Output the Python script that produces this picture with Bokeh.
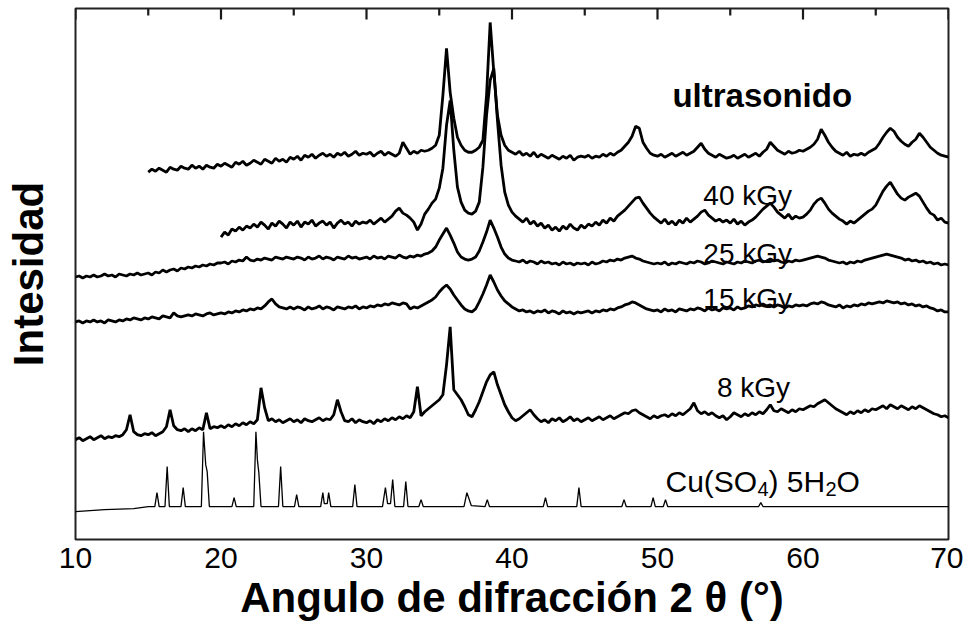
import numpy as np
from bokeh.plotting import figure
from bokeh.models import Range1d, FixedTicker, Label
from bokeh.embed import file_html
from bokeh.resources import INLINE

# ---------------- data (intensity in arbitrary units, offset per pattern) ----------------
STEP = 0.25  # scan step (degrees 2-theta)

ultra_start = 15.0
ultra = [
    368, 371, 369, 372, 370, 368, 373, 371, 370, 374, 372, 371, 375, 372, 374, 371, 375, 373, 372, 376,
    374, 377, 375, 373, 378, 376, 379, 375, 377, 380, 378, 376, 381, 379, 377, 382, 379, 381, 378, 383,
    381, 384, 380, 385, 383, 386, 382, 385, 387, 384, 386, 383, 387, 385, 388, 384, 386, 389, 385, 387,
    386, 388, 384, 387, 389, 385, 388, 386, 384, 387, 398, 392, 386, 389, 387, 390, 389, 390, 392, 395,
    405, 445, 492, 448, 422, 403, 395, 390, 388, 388, 390, 393, 400, 445, 518, 468, 425, 405, 395, 390,
    388, 386, 389, 385, 387, 384, 388, 383, 386, 384, 382, 385, 383, 381, 384, 382, 385, 380, 383, 384,
    383, 385, 382, 384, 383, 386, 384, 387, 385, 388, 390, 394, 398, 404, 414, 412, 398, 392, 387, 385,
    384, 386, 383, 385, 387, 384, 386, 388, 385, 387, 389, 393, 397, 391, 387, 385, 383, 386, 384, 382,
    383, 385, 382, 384, 386, 383, 385, 387, 384, 388, 391, 398, 394, 390, 388, 386, 389, 387, 388, 390,
    389, 391, 393, 396, 401, 411, 405, 398, 393, 389, 387, 385, 388, 384, 386, 385, 387, 385, 388, 390,
    392, 397, 403, 408, 412, 409, 403, 399, 396, 394, 398, 401, 407, 403, 398, 393, 390, 387, 385, 384,
    383,
]

kgy40_start = 20.0
kgy40 = [
    303, 308, 305, 311, 309, 313, 310, 314, 312, 316, 313, 318, 315, 311, 317, 314, 319, 316, 312, 318,
    315, 319, 313, 318, 316, 320, 314, 317, 319, 315, 318, 312, 317, 320, 316, 318, 314, 319, 316, 318,
    317, 320, 316, 319, 322, 318, 321, 324, 329, 332, 327, 325, 322, 318, 310, 316, 326, 331, 337, 341,
    352, 372, 415, 440, 390, 353, 338, 330, 327, 326, 329, 338, 373, 425, 460, 472, 420, 375, 348, 335,
    328, 324, 321, 318, 322, 316, 319, 314, 317, 312, 315, 310, 313, 309, 314, 311, 316, 312, 310, 315,
    312, 316, 314, 318, 315, 320, 317, 322, 319, 324, 327, 330, 334, 338, 342, 343, 337, 332, 327, 323,
    320, 317, 321, 316, 319, 315, 320, 317, 322, 318, 321, 324, 328, 330, 325, 322, 319, 321, 318, 320,
    317, 321, 316, 319, 315, 318, 320, 323, 327, 331, 334, 337, 333, 328, 325, 322, 326, 321, 324, 322,
    323, 326, 330, 336, 340, 342, 337, 331, 327, 324, 321, 319, 316, 319, 317, 320, 323, 326, 329, 331,
    335, 342, 349, 354, 358, 352, 346, 342, 340, 343, 345, 347, 344, 338, 332, 327, 325, 320, 322, 318,
    317,
]

kgy25_start = 10.0
kgy25 = [
    263, 264, 262, 264, 263, 265, 263, 264, 266, 264, 265, 263, 266, 265, 264, 266, 265, 267, 265, 266,
    267, 265, 268, 267, 270, 268, 270, 271, 269, 272, 271, 273, 272, 274, 273, 275, 274, 276, 275, 277,
    277, 278, 276, 279, 278, 280, 279, 283, 280, 279, 281, 280, 282, 281, 280, 283, 282, 281, 283, 282,
    281, 283, 282, 280, 283, 281, 282, 284, 281, 283, 282, 280, 283, 282, 281, 284, 282, 283, 281, 282,
    283, 281, 284, 282, 283, 281, 284, 283, 282, 285, 283, 282, 284, 283, 285, 284, 286, 287, 289, 293,
    300, 306, 312, 305, 297, 288, 283, 281, 280, 281, 283, 289, 298, 308, 320, 312, 303, 293, 286, 282,
    280, 279, 278, 280, 277, 279, 278, 276, 279, 277, 278, 276, 277, 275, 278, 276, 277, 275, 277, 276,
    277, 275, 278, 276, 277, 279, 278, 280, 279, 281, 280, 282, 283, 284, 282, 281, 279, 278, 277, 276,
    277, 276, 278, 275, 277, 276, 278, 277, 276, 278, 277, 279, 278, 276, 277, 279, 278, 277, 276, 278,
    277, 276, 278, 277, 279, 278, 277, 279, 280, 278, 279, 281, 279, 280, 278, 277, 279, 278, 280, 279,
    280, 281, 282, 283, 284, 283, 282, 280, 279, 278, 277, 278, 276, 278, 277, 279, 278, 280, 281, 282,
    283, 284, 285, 286, 285, 284, 283, 282, 280, 281, 279, 280, 278, 279, 277, 278, 276, 277, 275, 276,
    275,
]

kgy15_start = 10.0
kgy15 = [
    218, 219, 217, 219, 218, 220, 218, 219, 217, 220, 219, 218, 220, 219, 221, 220, 222, 221, 220, 222,
    221, 223, 222, 221, 224, 223, 222, 227, 224, 223, 224, 225, 224, 226, 225, 224, 226, 227, 225, 226,
    227, 226, 228, 227, 229, 228, 230, 229, 231, 230, 232, 231, 234, 238, 241, 236, 233, 232, 231, 233,
    231, 233, 232, 230, 233, 231, 232, 234, 231, 233, 232, 230, 233, 232, 231, 233, 232, 234, 231, 233,
    232, 234, 233, 235, 234, 236, 235, 237, 236, 235, 237, 236, 231, 233, 232, 234, 236, 238, 240, 243,
    248, 252, 255, 251, 245, 240, 235, 231, 229, 228, 231, 238, 246, 255, 265, 258, 250, 244, 239, 236,
    233, 231, 229, 230, 228, 229, 227, 229, 228, 230, 227, 229, 228, 226, 229, 227, 228, 226, 228, 227,
    228, 229, 227, 229, 228, 230, 229, 231, 230, 232, 233, 235, 236, 238, 237, 235, 233, 231, 230, 229,
    230, 228, 231, 229, 230, 228, 231, 230, 229, 231, 230, 232, 231, 229, 232, 230, 231, 229, 232, 231,
    232, 230, 233, 231, 232, 234, 233, 235, 234, 236, 234, 235, 233, 235, 234, 232, 234, 233, 235, 234,
    235, 234, 236, 237, 236, 238, 237, 235, 234, 233, 235, 232, 234, 233, 235, 234, 236, 235, 237, 236,
    237, 238, 237, 239, 238, 237, 238, 236, 237, 235, 236, 234, 235, 233, 234, 232, 231, 229, 230, 228,
    228,
]

kgy8_start = 10.0
kgy8 = [
    100, 102, 99, 101, 103, 100, 102, 104, 101, 103, 102, 104, 103, 105, 110, 125, 108, 105, 104, 106,
    105, 107, 104, 106, 108, 113, 130, 114, 110, 109, 111, 108, 111, 109, 112, 110, 127, 111, 113, 112,
    114, 112, 115, 113, 116, 114, 117, 115, 118, 116, 120, 152, 132, 119, 121, 118, 120, 117, 119, 121,
    118, 120, 117, 121, 119, 118, 120, 122, 119, 121, 120, 125, 140, 128, 119, 118, 121, 117, 120, 118,
    117, 119, 116, 120, 118, 121, 119, 122, 120, 123, 121, 124, 122, 128, 153, 124, 128, 131, 134, 137,
    140, 145, 175, 213, 150, 145, 140, 133, 125, 123, 130, 138, 148, 158, 165, 168, 155, 145, 135, 128,
    122, 119, 121, 124, 127, 130, 125, 121, 118, 120, 117, 121, 119, 122, 118, 120, 123, 119, 121, 118,
    120, 122, 119, 121, 123, 120, 122, 124, 121, 123, 125, 127, 126, 129, 130, 127, 125, 123, 121, 124,
    122, 124, 125, 123, 126, 124, 127, 125, 128, 131, 137, 129, 126, 128, 125, 127, 124, 122, 124, 120,
    123, 127, 125, 123, 126, 124, 127, 125, 128, 126, 130, 135, 129, 128, 131, 129, 127, 130, 128, 131,
    130, 132, 134, 133, 136, 138, 140, 137, 134, 131, 129, 127, 125, 128, 126, 129, 127, 130, 128, 131,
    130, 132, 134, 131, 135, 133, 131, 134, 132, 130, 133, 131, 134, 132, 130, 128, 126, 125, 123, 124,
    122,
]

cu_x = [10, 12, 14, 15.0,
        15.45, 15.6, 15.75,
        16.15, 16.3, 16.45,
        17.25, 17.4, 17.55,
        18.65, 18.8, 18.95, 19.05, 19.2,
        20.75, 20.9, 21.05,
        22.25, 22.4, 22.5, 22.6, 22.75,
        23.95, 24.1, 24.25,
        25.05, 25.2, 25.35,
        26.85, 27.0, 27.1, 27.3, 27.4, 27.55,
        29.05, 29.2, 29.35,
        31.1, 31.3, 31.45, 31.65, 31.8, 31.95,
        32.55, 32.7, 32.85,
        33.6, 33.75, 33.9,
        36.7, 36.9, 37.2,
        38.15, 38.3, 38.45,
        42.15, 42.3, 42.45,
        44.45, 44.6, 44.75,
        47.55, 47.7, 47.85,
        49.55, 49.7, 49.85,
        50.4, 50.55, 50.7,
        56.95, 57.1, 57.25,
        70]
cu_y = [28, 30, 31, 33,
        33, 47, 33,
        33, 73, 33,
        33, 52, 33,
        33, 108, 75, 68, 33,
        33, 42, 33,
        33, 108, 80, 67, 33,
        33, 73, 33,
        33, 45, 33,
        33, 47, 36, 36, 47, 33,
        33, 55, 33,
        33, 52, 36, 36, 60, 33,
        33, 58, 33,
        33, 40, 33,
        33, 47, 34,
        33, 40, 33,
        33, 42, 33,
        33, 52, 33,
        33, 40, 33,
        33, 42, 33,
        33, 40, 33,
        33, 37, 33,
        33]

x_ticks = [10, 20, 30, 40, 50, 60, 70]
x_minor_ticks = [15, 25, 35, 45, 55, 65]
Y_TOP = 532
MAJOR_LEN = 11
MINOR_LEN = 7

FONT = "Liberation Sans"

# ---------------- figure ----------------
p = figure(width=963, height=624, output_backend="svg", toolbar_location=None,
           x_range=Range1d(10, 70), y_range=Range1d(0, Y_TOP),
           min_border_left=75, min_border_right=15, min_border_top=8, min_border_bottom=85)
p.grid.visible = False
p.background_fill_color = "white"
p.border_fill_color = "white"
p.outline_line_color = "#222222"
p.outline_line_width = 2

# bottom axis
xa = p.xaxis[0]
xa.ticker = FixedTicker(ticks=x_ticks)
xa.axis_line_color = None
xa.major_tick_in = 0
xa.major_tick_out = 0
xa.minor_tick_in = 0
xa.minor_tick_out = 0
xa.major_label_standoff = 8
xa.major_label_text_font = FONT
xa.major_label_text_font_size = "30px"
xa.major_label_text_color = "black"
xa.axis_label = "Angulo de difracción 2 θ (°)"
xa.axis_label_text_font = FONT
xa.axis_label_text_font_style = "bold"
xa.axis_label_text_font_size = "42px"
xa.axis_label_text_color = "black"
xa.axis_label_standoff = 3

# left axis
ya = p.yaxis[0]
ya.ticker = FixedTicker(ticks=[])
ya.axis_line_color = None
ya.major_tick_in = 0
ya.major_tick_out = 0
ya.minor_tick_in = 0
ya.minor_tick_out = 0
ya.axis_label = "Intesidad"
ya.axis_label_text_font = FONT
ya.axis_label_text_font_style = "bold"
ya.axis_label_text_font_size = "42px"
ya.axis_label_text_color = "black"
ya.axis_label_standoff = 24

# inward tick marks hanging from the top edge of the frame
tick_xs = [[t, t] for t in x_ticks] + [[t, t] for t in x_minor_ticks]
tick_ys = ([[Y_TOP + 2, Y_TOP - MAJOR_LEN] for _ in x_ticks]
           + [[Y_TOP + 2, Y_TOP - MINOR_LEN] for _ in x_minor_ticks])
p.multi_line(xs=tick_xs, ys=tick_ys, line_color="#1a1a1a", line_width=2.2, line_alpha=1.0)

# ---------------- traces ----------------
def grid(start, vals):
    return start + STEP * np.arange(len(vals))

for start, vals in [(ultra_start, ultra), (kgy40_start, kgy40), (kgy25_start, kgy25),
                    (kgy15_start, kgy15), (kgy8_start, kgy8)]:
    p.line(grid(start, vals), vals, line_color="black", line_width=2.8)

n = min(len(cu_x), len(cu_y))
p.line(cu_x[:n], cu_y[:n], line_color="black", line_width=1.3)

# ---------------- annotations ----------------
def lab(x, y, text, size, bold=False, align="center"):
    p.add_layout(Label(x=x, y=y, text=text, text_font=FONT, text_font_size=size,
                       text_font_style="bold" if bold else "normal",
                       text_align=align, text_baseline="alphabetic", text_color="black"))

lab(57.2, 445, "ultrasonido", "33px", bold=True)
lab(56.2, 345, "40 kGy", "28px")
lab(56.2, 287, "25 kGy", "28px")
lab(56.2, 241, "15 kGy", "28px")
lab(56.6, 152, "8 kGy", "28px")

# Cu(SO4) 5H2O with subscripts
cu_lab_x = 50.55
pieces = [("Cu(SO", 0, 58, "30px"), ("4", 92, 51, "20px"), (") 5H", 103, 58, "30px"),
          ("2", 160, 51, "20px"), ("O", 171, 58, "30px")]
for t, dx, yy, sz in pieces:
    p.add_layout(Label(x=cu_lab_x, y=yy, x_offset=dx, text=t, text_font=FONT,
                       text_font_size=sz, text_align="left", text_baseline="alphabetic",
                       text_color="black"))

open("out.html", "w").write(file_html(p, INLINE))
